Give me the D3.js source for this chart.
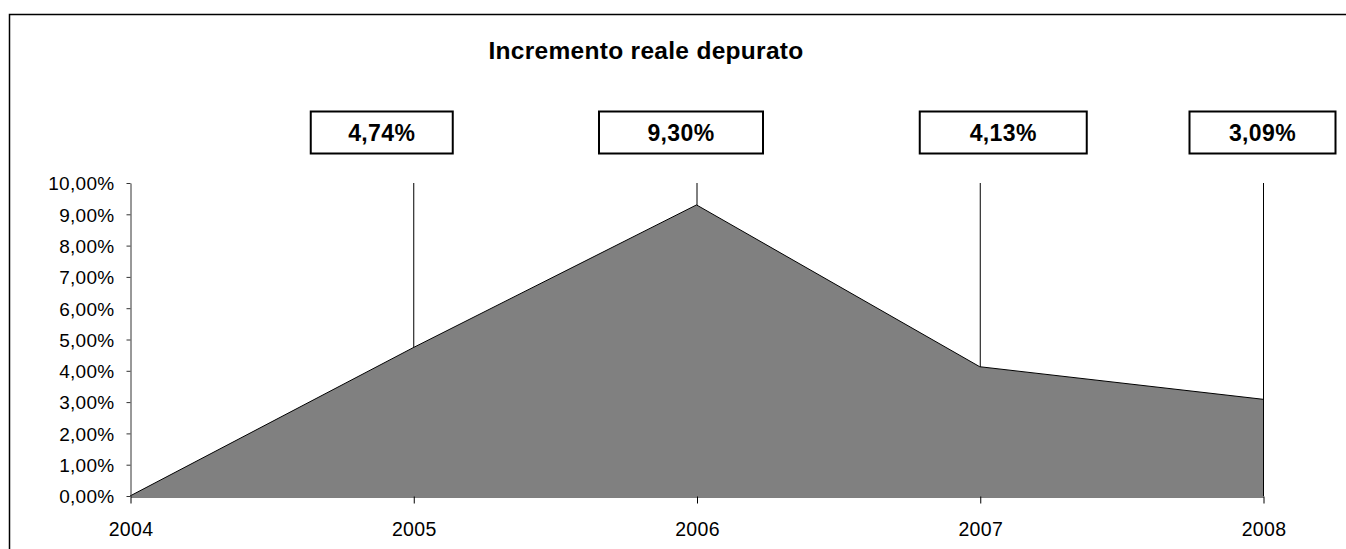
<!DOCTYPE html>
<html>
<head>
<meta charset="utf-8">
<script src="https://cdn.jsdelivr.net/npm/d3@7"></script>
<style>
  body { margin: 0; background: #fff; }
  svg { display: block; font-family: "Liberation Sans", Arial, sans-serif; }
</style>
</head>
<body>
<script>
// data
const years = ["2004", "2005", "2006", "2007", "2008"];
const values = [0, 4.74, 9.30, 4.13, 3.09];
const yTicks = [0, 1, 2, 3, 4, 5, 6, 7, 8, 9, 10];
const title = "Incremento reale depurato";

const width = 1346, height = 549;
const margin = {top: 183, left: 130, right: 83, bottom: 53};

// label boxes are hand placed in the original (dx from the category, box width)
const labelPos = [null, {dx: -32, w: 142}, {dx: -16, w: 164}, {dx: 23, w: 167}, {dx: -1, w: 146}];

const fmt = v => d3.format(".2f")(v).replace(".", ",") + "%";

const svg = d3.select("body").append("svg")
    .attr("width", width)
    .attr("height", height);

// outer chart border (runs off the right/bottom edge)
svg.append("rect")
    .attr("x", 9.5).attr("y", 14.5)
    .attr("width", 1400).attr("height", 600)
    .attr("fill", "none")
    .attr("stroke", "#000")
    .attr("stroke-width", 1.5);

const x = d3.scalePoint()
    .domain(years)
    .range([margin.left, width - margin.right]);

const y = d3.scaleLinear()
    .domain([0, 10])
    .range([height - margin.bottom, margin.top]);

// title
svg.append("text")
    .attr("x", 646)
    .attr("y", 59)
    .attr("text-anchor", "middle")
    .style("font-size", "24.5px")
    .style("font-weight", "bold")
    .style("letter-spacing", "0.3px")
    .text(title);

// vertical lines from the top of the plot down to each point
svg.append("g")
    .selectAll("line")
    .data(years.slice(1))
    .join("line")
    .attr("x1", d => x(d) + 0.5).attr("x2", d => x(d) + 0.5)
    .attr("y1", y(10)).attr("y2", y(0))
    .attr("stroke", "#000")
    .attr("stroke-width", 1);

// area
const pts = years.map((d, i) => ({year: d, v: values[i]}));
const area = d3.area()
    .x(d => x(d.year))
    .y0(y(0))
    .y1(d => y(d.v));
const line = d3.line()
    .x(d => x(d.year))
    .y(d => y(d.v));

svg.append("path")
    .datum(pts)
    .attr("d", area)
    .attr("fill", "#808080");
svg.append("path")
    .datum(pts)
    .attr("d", line)
    .attr("fill", "none")
    .attr("stroke", "#000")
    .attr("stroke-width", 1);

// y axis
const yAxis = svg.append("g")
    .attr("transform", `translate(${margin.left + 0.5},0)`)
    .call(d3.axisLeft(y).tickValues(yTicks).tickFormat(fmt).tickSize(4).tickSizeOuter(0));
yAxis.select(".domain").attr("stroke", "#333");
yAxis.selectAll(".tick line").attr("stroke", "#333");
yAxis.selectAll("text")
    .attr("x", -16)
    .attr("dy", "0.36em")
    .attr("fill", "#000")
    .style("font-family", "'Liberation Sans', Arial, sans-serif")
    .style("font-size", "19px")
    .style("letter-spacing", "0.3px");

// x axis
const xAxis = svg.append("g")
    .attr("transform", `translate(0.5,${y(0) + 0.5})`)
    .call(d3.axisBottom(x).tickSize(7).tickSizeOuter(0));
xAxis.select(".domain").attr("stroke", "#000");
xAxis.selectAll(".tick line").attr("stroke", "#000");
xAxis.selectAll("text")
    .attr("y", 39.5)
    .attr("dy", 0)
    .attr("fill", "#000")
    .style("font-family", "'Liberation Sans', Arial, sans-serif")
    .style("font-size", "19.5px")
    .style("letter-spacing", "0.3px");

// data label boxes
const labels = svg.append("g")
    .selectAll("g")
    .data(pts.map((d, i) => ({...d, pos: labelPos[i]})).filter(d => d.pos))
    .join("g")
    .attr("transform", d => `translate(${x(d.year) + d.pos.dx},132)`);

labels.append("rect")
    .attr("x", d => -d.pos.w / 2 + 0.5)
    .attr("y", -20.5)
    .attr("width", d => d.pos.w)
    .attr("height", 42)
    .attr("fill", "#fff")
    .attr("stroke", "#000")
    .attr("stroke-width", 2);

labels.append("text")
    .attr("x", 0.5)
    .attr("y", 9)
    .attr("text-anchor", "middle")
    .style("font-size", "23px")
    .style("font-weight", "bold")
    .style("letter-spacing", "0.4px")
    .text(d => fmt(d.v));
</script>
</body>
</html>
